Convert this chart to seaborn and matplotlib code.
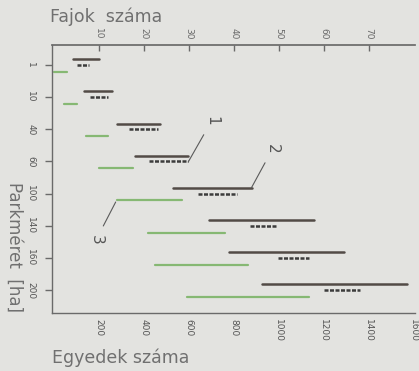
import pandas as pd
import matplotlib.pyplot as plt
import seaborn as sns

# Park size categories (y axis, top to bottom)
park_sizes = ["1", "10", "40", "60", "100", "140", "160", "200"]

# ranges (Egyedek száma)
line1_lo = [85, 135, 280, 360, 530, 690, 780, 925]
line1_hi = [200, 260, 470, 595, 880, 1155, 1290, 1570]
line2_lo = [105, 160, 335, 425, 640, 870, 995, 1200]
line2_hi = [155, 240, 465, 595, 815, 990, 1135, 1360]
line3_lo = [2, 45, 145, 200, 280, 420, 450, 590]
line3_hi = [60, 105, 240, 350, 570, 760, 865, 1135]

bottom_ticks = [200, 400, 600, 800, 1000, 1200, 1400, 1600]
top_ticks = [10, 20, 30, 40, 50, 60, 70]

# long table: one segment = two rows
rows = []
for name, lo, hi, off in [("1", line1_lo, line1_hi, -0.18),
                          ("2", line2_lo, line2_hi, 0.0),
                          ("3", line3_lo, line3_hi, 0.21)]:
    for i, (a, b) in enumerate(zip(lo, hi)):
        rows.append({"series": name, "seg": f"{name}-{i}", "x": a, "y": i + off})
        rows.append({"series": name, "seg": f"{name}-{i}", "x": b, "y": i + off})
df = pd.DataFrame(rows)

sns.set_theme(style="white")
plt.rcParams["font.family"] = ["DejaVu Sans"]
bg = "#e3e3e0"
grey = "#6a6a6a"

fig = plt.figure(figsize=(4.19, 3.71), dpi=100, facecolor=bg)
ax = fig.add_axes([52 / 419, 1 - 313 / 371, 363 / 419, 268 / 371], facecolor=bg)

sns.lineplot(data=df, x="x", y="y", hue="series", style="series", size="series",
             units="seg", estimator=None, sort=False, legend=False, ax=ax,
             palette={"1": "#524b46", "2": "#3c3c3c", "3": "#86b873"},
             dashes={"1": "", "2": (1.6, 0.6), "3": ""},
             sizes={"1": 1.8, "2": 1.8, "3": 1.6})

ax.set_xlim(-8, 1605)
ax.set_ylim(7.71, -0.62)
ax.set_xlabel("")
ax.set_ylabel("")

ax.set_yticks(range(len(park_sizes)))
ax.set_yticklabels(park_sizes, rotation=-90, va="center", fontsize=6.5)
ax.set_xticks(bottom_ticks)
ax.set_xticklabels(bottom_ticks, rotation=-90, fontsize=6.5)
ax.tick_params(axis="x", direction="in", length=4, width=1, colors=grey, pad=4,
               labelcolor="#555555")
ax.tick_params(axis="y", direction="out", length=5, width=1, colors=grey, pad=7,
               left=True, labelcolor="#555555")

top = ax.secondary_xaxis("top", functions=(lambda x: x / 20, lambda x: x * 20))
top.set_xticks(top_ticks)
top.set_xticklabels(top_ticks, rotation=-90, fontsize=6.5, color="#555555")
top.tick_params(direction="in", length=4, width=1, colors=grey, pad=4)
top.spines["top"].set_color(grey)

for side in ["left", "bottom"]:
    ax.spines[side].set_color(grey)
    ax.spines[side].set_linewidth(1)
ax.spines["right"].set_visible(False)
ax.spines["top"].set_visible(False)

# numbered leaders
leader = dict(arrowstyle="-", color="#5a5a5a", lw=0.8, shrinkA=5, shrinkB=0)
for label, xy, xytext in [("1", (597, 3.02), (702, 1.73)),
                          ("2", (878, 3.82), (973, 2.60)),
                          ("3", (275, 4.26), (187, 5.45))]:
    ax.annotate(label, xy=xy, xytext=xytext, ha="center", va="center",
                rotation=-90, fontsize=11, color="#555555", arrowprops=leader)

fig.text(50 / 419, 1 - 17 / 371, "Fajok  száma", fontsize=12.5, color="#707070",
         ha="left", va="center")
fig.text(52 / 419, 1 - 358 / 371, "Egyedek száma", fontsize=12.5, color="#707070",
         ha="left", va="center")
fig.text(14 / 419, 1 - 247 / 371, "Parkméret  [ha]", fontsize=12, color="#707070",
         ha="center", va="center", rotation=-90)

fig.savefig("out.png", dpi=100, facecolor=bg)
